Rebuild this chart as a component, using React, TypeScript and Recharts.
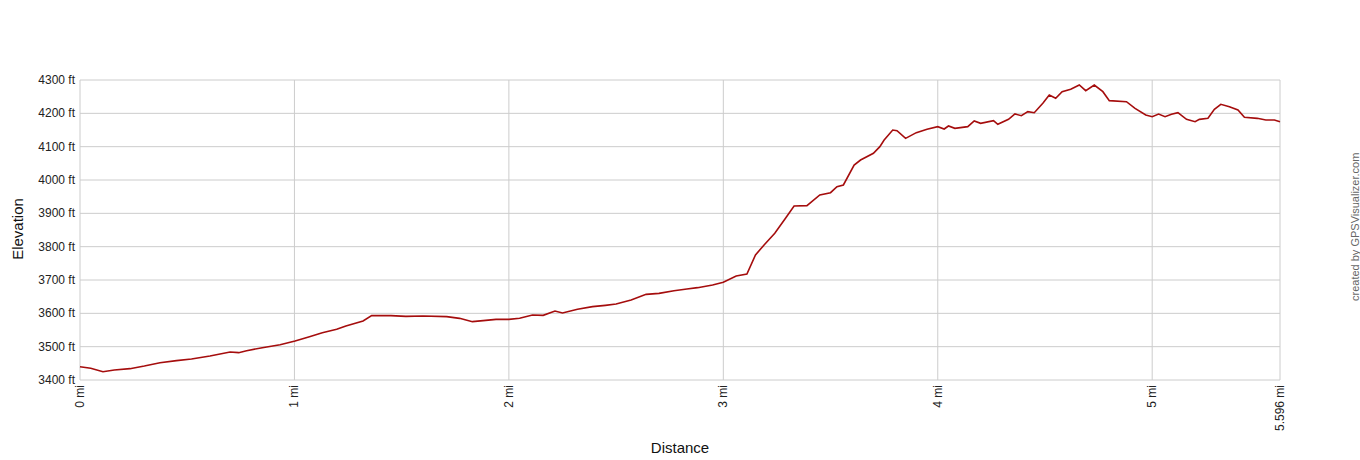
import React from 'react';
import { LineChart, Line, XAxis, YAxis, CartesianGrid } from 'recharts';

// distance along the track (mi) and elevation (ft)
const distances = [
  0, 0.05, 0.107, 0.16, 0.233, 0.3, 0.373, 0.45, 0.52, 0.606, 0.7, 0.74, 0.777, 0.85, 0.933,
  1.003, 1.07, 1.13, 1.197, 1.24, 1.32, 1.36, 1.45, 1.52, 1.6, 1.71, 1.77, 1.83, 1.88, 1.94,
  2.0, 2.05, 2.11, 2.16, 2.215, 2.25, 2.32, 2.39, 2.45, 2.5, 2.57, 2.64, 2.7, 2.77, 2.83, 2.88, 2.95,
  3.0, 3.06, 3.11, 3.15, 3.19, 3.24, 3.29, 3.33, 3.39, 3.45, 3.5, 3.53, 3.56, 3.61, 3.64, 3.7,
  3.73, 3.75, 3.79, 3.81, 3.85, 3.9, 3.95,
  4.0, 4.03, 4.05, 4.08, 4.14, 4.17, 4.2, 4.26, 4.28, 4.33, 4.36, 4.39, 4.42, 4.45, 4.49, 4.52,
  4.55, 4.58, 4.62, 4.66, 4.69, 4.73, 4.77, 4.8, 4.88, 4.92, 4.97,
  5.0, 5.03, 5.06, 5.09, 5.12, 5.16, 5.2, 5.22, 5.26, 5.29, 5.32, 5.36, 5.4, 5.43, 5.49, 5.53,
  5.57, 5.596,
];

const elevations = [
  3440, 3435, 3425, 3430, 3434, 3442, 3452, 3458, 3463, 3472, 3484, 3482, 3488, 3497, 3506,
  3517, 3530, 3542, 3552, 3562, 3577, 3593, 3593, 3591, 3592, 3590, 3585, 3575, 3578, 3582,
  3582, 3585, 3595, 3594, 3607, 3601, 3612, 3620, 3624, 3628, 3640, 3657, 3660, 3668, 3673, 3677, 3685,
  3693, 3712, 3718, 3775, 3805, 3840, 3885, 3922, 3923, 3955, 3962, 3980, 3985, 4045, 4060, 4080,
  4100, 4120, 4150, 4148, 4125, 4142, 4152,
  4160, 4153, 4162, 4155, 4160, 4177, 4170, 4178, 4167, 4182, 4198, 4193, 4205, 4202, 4230, 4255,
  4245, 4265, 4272, 4285, 4268, 4285, 4265, 4238, 4235, 4215, 4195,
  4190, 4198, 4190, 4197, 4202, 4182, 4175, 4182, 4185, 4212, 4227, 4220, 4210, 4188, 4185, 4180,
  4180, 4175,
];

const xTicks = [0, 1, 2, 3, 4, 5, 5.596];
const yTicks = [3400, 3500, 3600, 3700, 3800, 3900, 4000, 4100, 4200, 4300];

const data = distances.map((d, i) => ({ dist: d, elev: elevations[i] }));

const FONT = 'Arial, "Liberation Sans", sans-serif';

const YTick = (props: any) => {
  const { x, y, payload } = props;
  return (
    <text x={x} y={y} textAnchor="end" dominantBaseline="central" fontSize={12} fill="#222" fontFamily={FONT}>
      {`${payload.value} ft`}
    </text>
  );
};

const XTick = (props: any) => {
  const { x, y, payload } = props;
  return (
    <text
      x={x}
      y={y}
      transform={`rotate(-90, ${x}, ${y})`}
      textAnchor="end"
      dominantBaseline="central"
      fontSize={12}
      fill="#222"
      fontFamily={FONT}
    >
      {`${payload.value} mi`}
    </text>
  );
};

export default function App() {
  return (
    <div style={{ position: 'relative', width: 1360, height: 460, fontFamily: FONT, overflow: 'hidden' }}>
      {/* drop the default body margin so the chart fills the whole window */}
      <style>{'body { margin: 0; }'}</style>
      <LineChart width={1360} height={460} data={data} margin={{ top: 80, right: 80, bottom: 20, left: 18 }}>
        <CartesianGrid stroke="#cccccc" strokeWidth={1} />
        <XAxis
          dataKey="dist"
          type="number"
          domain={[0, 5.596]}
          ticks={xTicks}
          interval={0}
          height={60}
          axisLine={false}
          tickLine={false}
          tickSize={0}
          tickMargin={5}
          tick={<XTick />}
        />
        <YAxis
          type="number"
          domain={[3400, 4300]}
          ticks={yTicks}
          interval={0}
          width={62}
          axisLine={false}
          tickLine={false}
          tickSize={0}
          tickMargin={5}
          tick={<YTick />}
        />
        <Line
          type="linear"
          dataKey="elev"
          stroke="#a50d0d"
          strokeWidth={1.6}
          dot={false}
          isAnimationActive={false}
        />
      </LineChart>

      <div
        style={{
          position: 'absolute', left: 17.5 - 50, top: 229 - 10, width: 100, height: 20, lineHeight: '20px',
          textAlign: 'center', transform: 'rotate(-90deg)', whiteSpace: 'nowrap', fontSize: 15, color: '#111',
        }}
      >
        Elevation
      </div>
      <div
        style={{
          position: 'absolute', left: 680 - 50, top: 448 - 10, width: 100, height: 20, lineHeight: '20px',
          textAlign: 'center', whiteSpace: 'nowrap', fontSize: 15, color: '#111',
        }}
      >
        Distance
      </div>
      <div
        style={{
          position: 'absolute', left: 1355 - 8, top: 227 - 90, width: 16, height: 180, lineHeight: '16px',
          textAlign: 'center', writingMode: 'vertical-rl', transform: 'rotate(180deg)',
          whiteSpace: 'nowrap', fontSize: 11, color: '#666',
        }}
      >
        created by GPSVisualizer.com
      </div>
    </div>
  );
}
